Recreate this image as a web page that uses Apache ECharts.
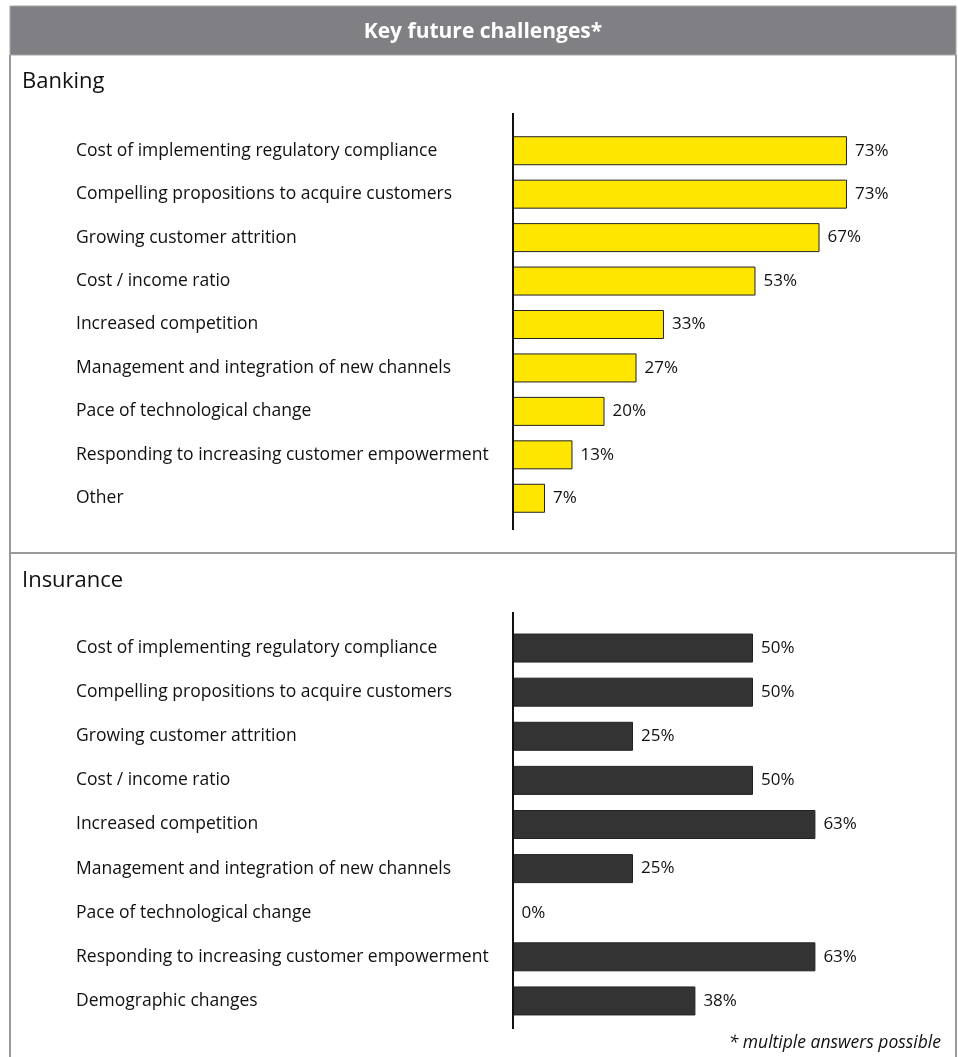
<!DOCTYPE html>
<html>
<head>
<meta charset="utf-8">
<script src="https://cdn.jsdelivr.net/npm/echarts@6/dist/echarts.min.js"></script>
<style>
  html, body { margin: 0; padding: 0; background: #ffffff; }
  #chart { width: 958px; height: 1057px; }
</style>
</head>
<body>
<div id="chart"></div>
<script>
// Survey answers (share of respondents, %)
const bankingCategories = [
  'Cost of implementing regulatory compliance',
  'Compelling propositions to acquire customers',
  'Growing customer attrition',
  'Cost / income ratio',
  'Increased competition',
  'Management and integration of new channels',
  'Pace of technological change',
  'Responding to increasing customer empowerment',
  'Other'
];
const bankingValues = [73, 73, 67, 53, 33, 27, 20, 13, 7];

const insuranceCategories = [
  'Cost of implementing regulatory compliance',
  'Compelling propositions to acquire customers',
  'Growing customer attrition',
  'Cost / income ratio',
  'Increased competition',
  'Management and integration of new channels',
  'Pace of technological change',
  'Responding to increasing customer empowerment',
  'Demographic changes'
];
const insuranceValues = [50, 50, 25, 50, 63, 25, 0, 63, 38];

const FONT = '"Open Sans", "Liberation Sans", sans-serif';
const TEXT = '#111111';
const AXIS_X = 513;

// Panel layout
const bankGrid = { left: AXIS_X, top: 129, width: 366, height: 391 };
const insGrid = { left: AXIS_X, top: 626, width: 384, height: 397 };

const chart = echarts.init(document.getElementById('chart'), null, { renderer: 'canvas' });

function catAxis(gridIndex, cats) {
  return {
    type: 'category',
    gridIndex: gridIndex,
    data: cats,
    inverse: true,
    axisLine: { show: false },
    axisTick: { show: false },
    axisLabel: {
      show: true,
      margin: AXIS_X - 76,
      align: 'left',
      fontFamily: FONT,
      fontSize: 17.5,
      color: TEXT
    }
  };
}

function valAxis(gridIndex) {
  return {
    type: 'value',
    gridIndex: gridIndex,
    min: 0,
    max: 80,
    show: false,
    splitLine: { show: false }
  };
}

function barSeries(idx, values, fill) {
  return {
    type: 'bar',
    xAxisIndex: idx,
    yAxisIndex: idx,
    data: values,
    barWidth: 29,
    itemStyle: { color: fill, borderColor: '#222222', borderWidth: 1 },
    label: {
      show: true,
      position: 'right',
      distance: 8,
      formatter: '{c}%',
      fontFamily: FONT,
      fontSize: 17,
      color: TEXT
    },
    emphasis: { disabled: true },
    silent: true,
    animation: false
  };
}

const frameColor = '#9a9a9a';

chart.setOption({
  animation: false,
  grid: [
    Object.assign({}, bankGrid),
    Object.assign({}, insGrid)
  ],
  xAxis: [valAxis(0), valAxis(1)],
  yAxis: [catAxis(0, bankingCategories), catAxis(1, insuranceCategories)],
  series: [
    barSeries(0, bankingValues, '#ffe600'),
    barSeries(1, insuranceValues, '#333333')
  ],
  graphic: [
    // header band
    { type: 'rect', z: -1, shape: { x: 10, y: 6, width: 946, height: 49 },
      style: { fill: '#807f83', stroke: '#a5a5a5', lineWidth: 1 } },
    { type: 'text', x: 483, y: 32,
      style: { text: 'Key future challenges*', align: 'center', verticalAlign: 'middle',
               fontFamily: FONT, fontSize: 21, fontWeight: 'bold', fill: '#ffffff' } },
    // frame sides
    { type: 'line', shape: { x1: 10, y1: 55, x2: 10, y2: 1057 }, style: { stroke: frameColor, lineWidth: 2 } },
    { type: 'line', shape: { x1: 956, y1: 55, x2: 956, y2: 1057 }, style: { stroke: frameColor, lineWidth: 2 } },
    // panel divider
    { type: 'line', shape: { x1: 10, y1: 553, x2: 956, y2: 553 }, style: { stroke: frameColor, lineWidth: 2 } },
    // panel headings
    { type: 'text', x: 22, y: 82,
      style: { text: 'Banking', verticalAlign: 'middle', fontFamily: FONT, fontSize: 22, fill: TEXT } },
    { type: 'text', x: 22, y: 581,
      style: { text: 'Insurance', verticalAlign: 'middle', fontFamily: FONT, fontSize: 22, fill: TEXT } },
    // category axis lines
    { type: 'line', shape: { x1: AXIS_X, y1: bankGrid.top - 16, x2: AXIS_X, y2: bankGrid.top + bankGrid.height + 10 },
      style: { stroke: '#111111', lineWidth: 2 }, z: 10 },
    { type: 'line', shape: { x1: AXIS_X, y1: insGrid.top - 14, x2: AXIS_X, y2: insGrid.top + insGrid.height + 6 },
      style: { stroke: '#111111', lineWidth: 2 }, z: 10 },
    // footnote
    { type: 'text', x: 941, y: 1043,
      style: { text: '* multiple answers possible', align: 'right', verticalAlign: 'middle',
               fontFamily: FONT, fontSize: 17.5, fontStyle: 'italic', fill: TEXT } }
  ]
});
</script>
</body>
</html>
